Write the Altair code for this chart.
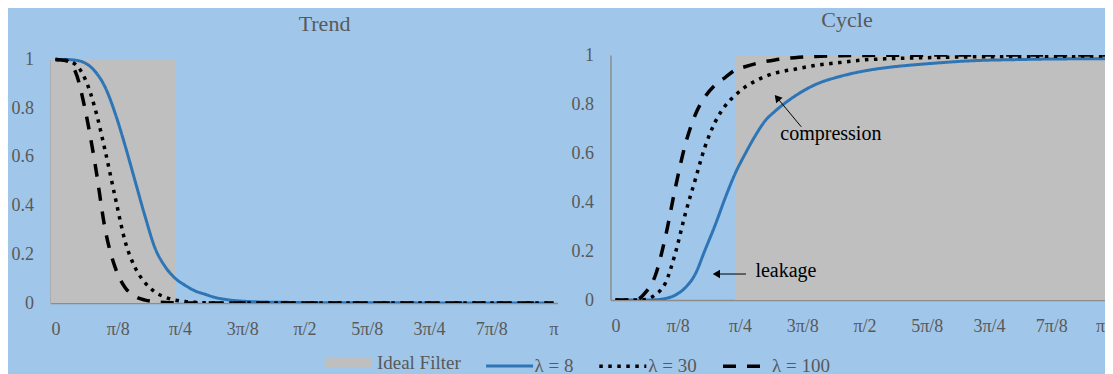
import altair as alt
import pandas as pd

# ---------------- data ----------------
x_grid = [0.00, 0.02, 0.04, 0.06, 0.08, 0.10, 0.12, 0.14, 0.16, 0.18, 0.20,
          0.22, 0.24, 0.26, 0.28, 0.30, 0.32, 0.34, 0.36, 0.38, 0.40,
          0.45, 0.50, 0.55, 0.60, 0.65, 0.70, 0.75, 0.80, 0.85, 0.90, 0.95, 1.00]

trend_l8 = [1.000, 1.000, 0.997, 0.985, 0.950, 0.885, 0.778, 0.645, 0.500, 0.355, 0.225,
            0.150, 0.102, 0.073, 0.050, 0.036, 0.023, 0.015, 0.010, 0.007, 0.005,
            0.003, 0.002, 0.001, 0.001, 0.001, 0.001, 0.000, 0.000, 0.000, 0.000, 0.000, 0.000]
trend_l30 = [1.000, 0.997, 0.980, 0.918, 0.795, 0.623, 0.433, 0.252, 0.145, 0.083, 0.045,
             0.024, 0.012, 0.006, 0.003, 0.001, 0.000, 0.000, 0.000, 0.000, 0.000,
             0.000, 0.000, 0.000, 0.000, 0.000, 0.000, 0.000, 0.000, 0.000, 0.000, 0.000, 0.000]
trend_l100 = [1.000, 0.996, 0.950, 0.790, 0.565, 0.300, 0.145, 0.063, 0.027, 0.012, 0.005,
              0.002, 0.001, 0.000, 0.000, 0.000, 0.000, 0.000, 0.000, 0.000, 0.000,
              0.000, 0.000, 0.000, 0.000, 0.000, 0.000, 0.000, 0.000, 0.000, 0.000, 0.000, 0.000]

cycle_l8 = [0.000, 0.000, 0.000, 0.000, 0.001, 0.006, 0.020, 0.050, 0.105, 0.205, 0.305,
            0.415, 0.515, 0.595, 0.668, 0.730, 0.770, 0.803, 0.832, 0.857, 0.878,
            0.912, 0.935, 0.950, 0.960, 0.968, 0.975, 0.979, 0.981, 0.983, 0.984, 0.985, 0.985]
cycle_l30 = [0.000, 0.000, 0.000, 0.002, 0.022, 0.068, 0.190, 0.350, 0.490, 0.627, 0.726,
             0.792, 0.835, 0.869, 0.893, 0.912, 0.926, 0.935, 0.942, 0.950, 0.957,
             0.969, 0.980, 0.985, 0.988, 0.990, 0.992, 0.993, 0.994, 0.995, 0.995, 0.996, 0.996]
cycle_l100 = [0.000, 0.000, 0.000, 0.030, 0.100, 0.255, 0.456, 0.633, 0.755, 0.830, 0.878,
              0.908, 0.938, 0.952, 0.964, 0.973, 0.980, 0.985, 0.989, 0.992, 0.994,
              0.997, 0.998, 0.999, 0.999, 1.000, 1.000, 1.000, 1.000, 1.000, 1.000, 1.000, 1.000]

series_names = ["Ideal Filter", "λ = 8", "λ = 30", "λ = 100"]
ideal_cutoff = 0.24          # ideal band-pass cutoff (fraction of π)
tick_labels = ["0", "π/8", "π/4", "3π/8", "π/2", "5π/8", "3π/4", "7π/8", "π"]
y_ticks = [0, 0.2, 0.4, 0.6, 0.8, 1]
panel_titles = ["Trend", "Cycle"]
annotation_labels = ["compression", "leakage"]
ann_text_x = [0.331, 0.281]
ann_text_y = [0.653, 0.094]
ann_tail_x = [0.373, 0.262]
ann_tail_y = [0.707, 0.106]
ann_head_x = [0.326, 0.205]
ann_head_y = [0.822, 0.106]
ann_head_angle = [320, 270]

# ---------------- styling ----------------
FONT = "Liberation Serif"
BG = "#A0C6EA"
GRAY_TXT = "#595959"
AXIS_COL = "#8C8C8C"
colors = ["#BFBFBF", "#2E75B6", "#000000", "#000000"]
dashes = [[1, 0], [1, 0], [3.5, 5.5], [13, 11]]
widths = [10, 3, 3.5, 3.5]


def long_frame(vals8, vals30, vals100):
    rows = []
    for name, vals in zip(series_names[1:], [vals8, vals30, vals100]):
        for xv, yv in zip(x_grid, vals):
            rows.append({"x": xv, "value": yv, "series": name})
    return pd.DataFrame(rows)


trend_df = long_frame(trend_l8, trend_l30, trend_l100)
cycle_df = long_frame(cycle_l8, cycle_l30, cycle_l100)
band_df = pd.DataFrame({"cut": [ideal_cutoff], "top": [1.0], "bottom": [0.0]})
ann_df = pd.DataFrame({"label": annotation_labels, "x": ann_text_x, "y": ann_text_y,
                       "ax": ann_tail_x, "ay": ann_tail_y, "hx": ann_head_x,
                       "hy": ann_head_y, "angle": ann_head_angle})

legend = alt.Legend(
    title=None, orient="none", direction="horizontal", legendX=269.4, legendY=279,
    symbolType="stroke", symbolSize=2209, labelFont=FONT, labelFontSize=19,
    labelColor=GRAY_TXT, columnPadding=18.7, labelOffset=0, padding=0,
)

color_enc = alt.Color("series:N", scale=alt.Scale(domain=series_names, range=colors), legend=legend)
dash_enc = alt.StrokeDash("series:N", scale=alt.Scale(domain=series_names, range=dashes), legend=legend)
width_enc = alt.StrokeWidth("series:N", scale=alt.Scale(type="ordinal", domain=series_names, range=widths),
                            legend=legend)


def make_x_axis(pull_last=False):
    extra = {}
    if pull_last:
        # the right panel runs into the window edge: keep its last label readable
        extra = dict(labelFlush=4.5, labelFlushOffset=-9)
    return alt.Axis(
        values=[i / (len(tick_labels) - 1) for i in range(len(tick_labels))],
        labelExpr="%s[round(datum.value*%d)]" % (str(tick_labels), len(tick_labels) - 1),
        ticks=False, tickSize=0, grid=False, title=None, domainColor=AXIS_COL, domainWidth=1.5,
        labelFont=FONT, labelFontSize=18, labelColor=GRAY_TXT, labelPadding=17.5, **extra,
    )


y_axis = alt.Axis(
    values=y_ticks, format="~g", ticks=False, tickSize=0, grid=False, title=None,
    domainColor=AXIS_COL, domainWidth=1.5, labelFont=FONT, labelFontSize=18,
    labelColor=GRAY_TXT, labelPadding=17,
)
x_dom = [-0.01, 1.008]


def panel(df, title, title_x, title_y, height, y_top, band_left):
    xs = alt.Scale(domain=x_dom, nice=False, zero=False)
    ys = alt.Scale(domain=[0, 1], nice=False, range=[height, y_top])
    x_axis = make_x_axis(pull_last=not band_left)
    band = alt.Chart(band_df).mark_rect(color="#BFBFBF").encode(
        x=alt.X("cut:Q", scale=xs, axis=x_axis),
        x2=alt.value(0) if band_left else alt.value("width"),
        y=alt.Y("top:Q", scale=ys, axis=y_axis), y2="bottom:Q")
    lines = alt.Chart(df).mark_line(interpolate="monotone", clip=True).encode(
        x=alt.X("x:Q", scale=xs, axis=x_axis),
        y=alt.Y("value:Q", scale=ys, axis=y_axis),
        color=color_enc, strokeDash=dash_enc, strokeWidth=width_enc,
    )
    ttl = alt.Chart(band_df).mark_text(text=title, font=FONT, fontSize=22, color=GRAY_TXT,
                                       align="center", baseline="middle").encode(
        x=alt.value(title_x), y=alt.value(title_y))
    return [band, lines, ttl], xs, ys


# trend plot area spans page y 59.5..303, cycle 55..300 (both groups share the same origin)
t_layers, _, _ = panel(trend_df, panel_titles[0], 274, -30.7, 248, 4.5, True)
trend = alt.layer(*t_layers).properties(width=507, height=248)

c_layers, xs, ys = panel(cycle_df, panel_titles[1], 236.5, -35, 245, 0, False)
ann_text = alt.Chart(ann_df).mark_text(font=FONT, fontSize=20, color="#000000",
                                       align="left", baseline="alphabetic").encode(
    x=alt.X("x:Q", scale=xs), y=alt.Y("y:Q", scale=ys), text="label:N")
ann_rule = alt.Chart(ann_df).mark_rule(color="#000000", strokeWidth=1).encode(
    x=alt.X("ax:Q", scale=xs), y=alt.Y("ay:Q", scale=ys),
    x2="hx:Q", y2="hy:Q")
ann_head = alt.Chart(ann_df).mark_point(shape="triangle", filled=True, color="#000000",
                                        size=70, opacity=1).encode(
    x=alt.X("hx:Q", scale=xs), y=alt.Y("hy:Q", scale=ys), angle=alt.Angle("angle:Q", scale=None))

cycle = alt.layer(*c_layers, ann_rule, ann_head, ann_text).properties(width=507, height=245)

chart = alt.hconcat(trend, cycle, spacing=53, bounds="flush").configure(
    background=BG,
    padding={"left": 2.5, "top": 1, "right": -13, "bottom": 0},
).configure_view(stroke=None)

chart.save("out.html", embed_options={"renderer": "svg", "actions": False})
